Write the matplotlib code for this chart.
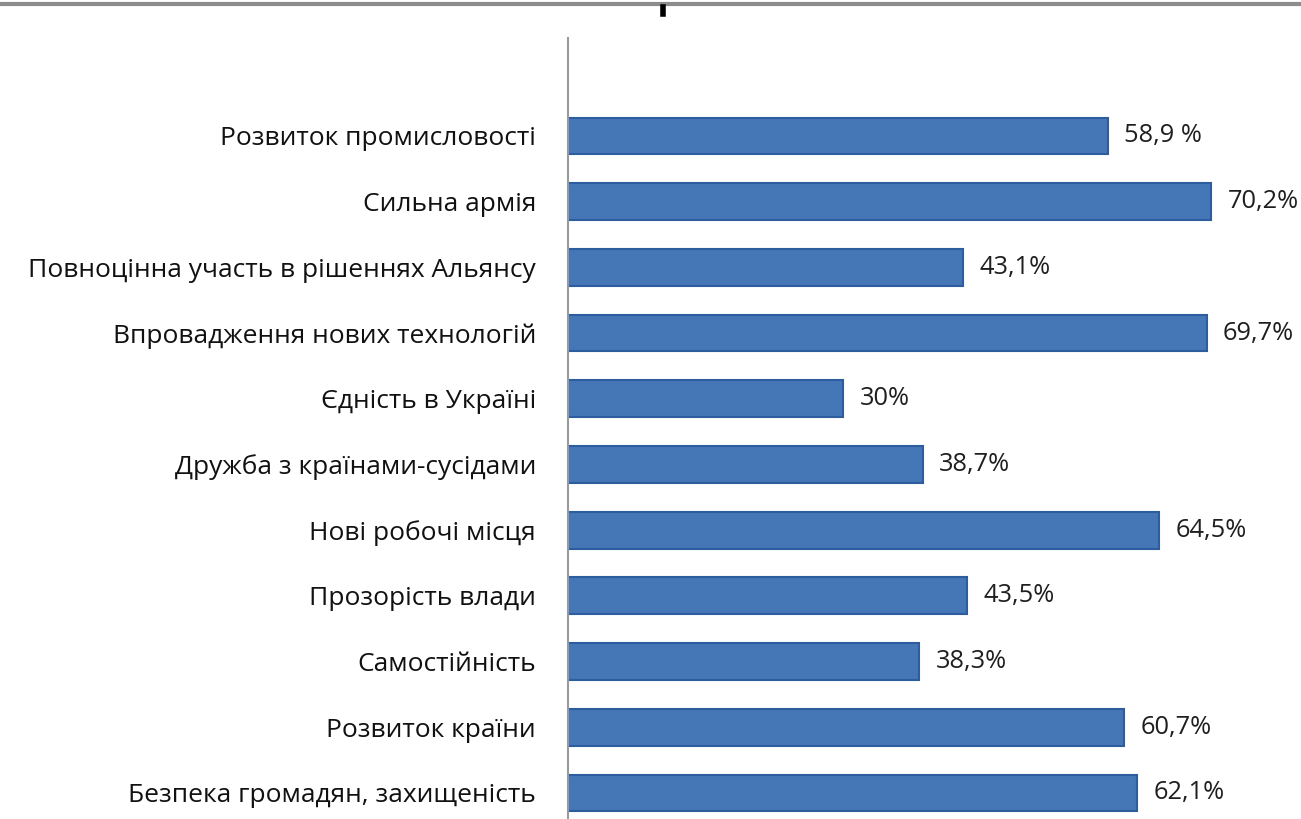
import matplotlib
matplotlib.use("Agg")
import matplotlib.pyplot as plt
from matplotlib.lines import Line2D

categories = [
    "Розвиток промисловості",
    "Сильна армія",
    "Повноцінна участь в рішеннях Альянсу",
    "Впровадження нових технологій",
    "Єдність в Україні",
    "Дружба з країнами-сусідами",
    "Нові робочі місця",
    "Прозорість влади",
    "Самостійність",
    "Розвиток країни",
    "Безпека громадян, захищеність",
]
values = [58.9, 70.2, 43.1, 69.7, 30, 38.7, 64.5, 43.5, 38.3, 60.7, 62.1]
value_labels = ["58,9 %", "70,2%", "43,1%", "69,7%", "30%", "38,7%",
                "64,5%", "43,5%", "38,3%", "60,7%", "62,1%"]

W, H = 1301, 819
fig = plt.figure(figsize=(W / 100, H / 100), dpi=100)
fig.patch.set_facecolor("white")

left = 568 / W
top = 1 - 38 / H
ax = fig.add_axes([left, 0, 1 - left, top])

n = len(categories)
ypos = list(range(n - 1, -1, -1))
ax.barh(ypos, values, height=0.56, color="#4576B5", edgecolor="#2D5D9F",
        linewidth=1.5, zorder=2)

ax.set_xlim(0, 80)
ax.set_ylim(-0.396, 11.49)

for y, v, lab in zip(ypos, values, value_labels):
    ax.text(v + 1.8, y, lab, va="center", ha="left", fontsize=18.3,
            color="#1f1f1f", family="Open Sans", clip_on=False)

ax.set_yticks(ypos)
ax.set_yticklabels(categories, fontsize=19, color="#111111", family="Open Sans")
ax.tick_params(axis="y", length=0, pad=23)
ax.set_xticks([])
for s in ["top", "right", "bottom"]:
    ax.spines[s].set_visible(False)
ax.spines["left"].set_color("#9a9a9a")
ax.spines["left"].set_linewidth(1.5)

# top decorative line and small mark
fig.add_artist(Line2D([0, 1], [1 - 4 / H, 1 - 4 / H], color="#8c8c8c", linewidth=3))
fig.add_artist(Line2D([663 / W, 663 / W], [1 - 7 / H, 1 - 14 / H], color="black", linewidth=4))

fig.savefig("out.png", dpi=100)
